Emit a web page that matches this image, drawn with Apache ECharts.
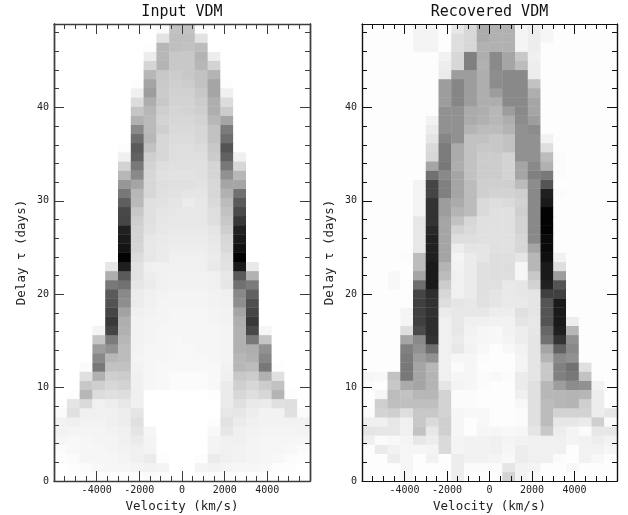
<!DOCTYPE html>
<html><head><meta charset="utf-8">
<style>html,body{margin:0;padding:0;background:#fff}#c{width:628px;height:515px}</style>
<script src="https://cdn.jsdelivr.net/npm/echarts@6/dist/echarts.min.js"></script>
</head><body><div id="c"></div>
<script>
const panelTitles = ['Input VDM', 'Recovered VDM'];
const velocityMin = -6000, velocityMax = 6000, velocityBin = 600;
const delayMax = 48.93, delayBin = 0.9786;
// Darkness (0 white .. 100 black), one row per delay bin from the bottom up, 20 velocity bins.
const inputVDM = [
[0,0,1,1,1,1,1,2,1,0,0,1,2,2,1,1,1,0,0,0],
[0,1,2,3,4,4,5,6,5,0,0,5,6,5,4,4,3,1,1,0],
[1,2,4,4,4,5,7,9,1,0,0,1,9,7,6,5,4,3,2,1],
[2,3,4,4,5,6,7,5,0,0,0,0,5,7,6,5,4,4,3,2],
[4,3,4,5,5,7,9,5,0,0,0,0,5,7,7,5,4,4,4,4],
[6,5,5,5,6,7,12,4,0,0,0,0,3,11,7,6,5,5,5,6],
[6,7,6,6,7,8,14,0,0,0,0,0,1,13,9,7,6,6,6,6],
[2,14,7,7,7,8,12,0,0,0,0,0,0,11,11,8,6,6,14,2],
[0,12,17,7,8,11,7,0,0,0,0,0,0,9,14,10,9,14,15,0],
[0,1,31,16,14,15,7,0,0,0,0,0,1,9,18,15,18,32,1,0],
[0,0,25,22,18,20,7,4,3,2,2,2,3,9,22,18,23,27,0,0],
[0,0,14,33,22,23,7,4,3,2,2,2,3,7,25,23,33,14,0,0],
[0,0,2,53,27,27,6,4,3,3,3,3,3,6,31,29,53,1,0,0],
[0,0,0,47,31,29,5,4,4,3,3,3,4,5,31,33,48,0,0,0],
[0,0,0,40,44,29,6,4,4,3,3,4,4,5,33,34,44,0,0,0],
[0,0,0,26,52,31,6,5,4,3,4,4,4,5,33,53,26,0,0,0],
[0,0,0,5,73,33,6,5,4,4,4,4,4,5,33,72,4,0,0,0],
[0,0,0,0,78,34,6,5,5,4,4,4,5,6,34,78,0,0,0,0],
[0,0,0,0,73,38,7,6,5,4,4,4,5,6,37,73,0,0,0,0],
[0,0,0,0,68,45,9,7,5,5,5,5,6,7,45,69,0,0,0,0],
[0,0,0,0,65,47,9,7,6,5,5,5,6,7,47,62,0,0,0,0],
[0,0,0,0,53,56,11,9,7,6,6,6,7,11,56,52,0,0,0,0],
[0,0,0,0,34,65,13,8,7,6,6,6,7,11,65,33,0,0,0,0],
[0,0,0,0,11,88,13,7,7,7,7,7,10,13,90,10,0,0,0,0],
[0,0,0,0,0,99,16,11,9,7,7,7,9,14,99,0,0,0,0,0],
[0,0,0,0,0,92,19,11,9,8,8,8,10,17,93,0,0,0,0,0],
[0,0,0,0,0,90,20,11,10,9,9,9,11,18,90,0,0,0,0,0],
[0,0,0,0,0,87,20,13,11,10,10,10,12,22,87,0,0,0,0,0],
[0,0,0,0,0,73,22,14,11,11,11,11,15,25,78,0,0,0,0,0],
[0,0,0,0,0,72,25,14,12,11,11,11,15,27,71,0,0,0,0,0],
[0,0,0,0,0,63,30,14,13,12,9,11,17,29,65,0,0,0,0,0],
[0,0,0,0,0,53,31,18,14,13,12,12,18,33,56,0,0,0,0,0],
[0,0,0,0,0,42,37,18,15,14,14,13,18,37,37,0,0,0,0,0],
[0,0,0,0,0,31,47,18,14,13,13,14,19,44,31,0,0,0,0,0],
[0,0,0,0,0,20,53,20,15,14,14,14,19,53,18,0,0,0,0,0],
[0,0,0,0,0,7,62,22,18,15,15,15,23,62,7,0,0,0,0,0],
[0,0,0,0,0,1,65,27,18,15,15,16,25,67,0,0,0,0,0,0],
[0,0,0,0,0,0,57,31,18,16,16,18,27,57,0,0,0,0,0,0],
[0,0,0,0,0,0,47,30,22,17,17,18,27,52,0,0,0,0,0,0],
[0,0,0,0,0,0,33,30,20,18,18,20,31,37,0,0,0,0,0,0],
[0,0,0,0,0,0,26,31,22,19,20,22,34,23,0,0,0,0,0,0],
[0,0,0,0,0,0,16,34,25,20,20,23,34,16,0,0,0,0,0,0],
[0,0,0,0,0,0,7,40,23,21,21,25,37,7,0,0,0,0,0,0],
[0,0,0,0,0,0,1,37,24,22,23,27,37,1,0,0,0,0,0,0],
[0,0,0,0,0,0,0,31,25,23,25,27,32,0,0,0,0,0,0,0],
[0,0,0,0,0,0,0,19,32,25,25,31,20,0,0,0,0,0,0,0],
[0,0,0,0,0,0,0,8,31,25,25,32,8,0,0,0,0,0,0,0],
[0,0,0,0,0,0,0,1,31,28,27,29,0,0,0,0,0,0,0,0],
[0,0,0,0,0,0,0,0,13,28,28,13,0,0,0,0,0,0,0,0],
[0,0,0,0,0,0,0,0,2,27,27,1,0,0,0,0,0,0,0,0]
];
const recoveredVDM = [
[1,1,1,4,1,1,1,8,1,1,1,20,6,3,1,1,1,1,1,1],
[1,1,1,4,1,1,1,8,2,2,2,12,6,5,1,1,3,1,1,1],
[1,1,8,4,1,6,1,8,6,6,5,3,8,7,7,2,1,6,3,1],
[1,9,6,4,4,5,17,5,6,6,7,4,8,7,7,7,1,6,6,4],
[7,2,3,5,11,8,17,5,6,6,7,5,6,7,7,7,5,6,8,6],
[12,11,11,7,27,11,22,4,1,4,4,3,4,12,25,8,5,2,11,11],
[7,7,11,7,25,17,22,4,1,3,1,1,2,14,29,11,11,9,22,2],
[2,20,22,15,25,25,20,4,3,3,1,1,2,14,29,20,20,20,8,11],
[1,22,28,28,28,28,20,2,2,1,1,1,3,14,29,31,32,22,8,1],
[1,4,29,27,31,31,20,2,2,1,1,1,7,14,31,31,32,31,8,1],
[2,1,25,35,37,32,12,5,4,2,1,1,9,14,31,40,46,44,6,1],
[4,3,27,53,37,32,7,4,4,2,3,2,9,12,25,50,53,27,1,1],
[1,1,1,53,37,31,7,2,4,1,1,1,5,12,25,50,56,14,1,1],
[1,1,1,52,40,44,7,4,4,2,1,1,5,12,32,47,44,1,1,1],
[1,1,1,50,44,57,7,11,6,3,1,3,6,12,37,62,47,1,1,1],
[1,1,1,37,47,80,7,9,5,4,3,5,8,12,56,80,44,1,1,1],
[1,1,1,15,71,82,7,11,6,4,3,6,8,11,60,88,31,1,1,1],
[1,1,1,5,75,82,7,11,7,7,6,6,12,11,67,90,8,1,1,1],
[1,1,1,5,75,81,9,11,11,11,8,8,14,12,67,90,1,1,1,1],
[1,1,1,1,75,81,15,12,11,14,12,10,10,12,67,90,1,1,1,1],
[1,1,1,1,73,82,18,7,9,14,12,10,11,12,75,75,1,1,1,1],
[1,1,3,1,57,90,23,7,9,14,14,10,11,20,87,67,1,1,1,1],
[1,1,3,1,37,90,29,7,9,14,15,15,4,25,90,40,1,1,1,1],
[1,1,1,1,29,90,32,6,9,14,15,15,4,31,90,15,1,1,1,1],
[1,1,1,2,29,88,37,5,9,12,15,15,12,31,94,6,1,1,1,1],
[1,1,1,1,11,87,37,8,12,12,14,14,18,37,96,1,1,1,1,1],
[1,1,1,1,11,87,37,15,15,14,14,14,18,47,96,1,1,1,1,1],
[1,1,1,1,11,84,37,20,17,14,14,14,20,47,99,1,1,1,1,1],
[1,1,1,1,11,80,37,27,18,14,14,14,20,47,99,1,1,1,1,1],
[1,1,1,1,5,80,40,32,29,17,14,14,22,47,99,1,1,1,1,1],
[1,1,1,1,5,80,40,35,29,17,15,17,20,47,90,1,1,1,1,1],
[1,1,1,1,5,73,50,37,29,22,20,20,22,47,88,2,1,1,1,1],
[1,1,1,1,5,73,50,37,29,22,22,22,29,46,67,1,1,1,1,1],
[1,1,1,1,1,56,47,37,27,23,23,20,37,50,53,2,1,1,1,1],
[1,1,1,1,1,37,53,34,27,23,23,20,37,47,33,2,1,1,1,1],
[1,1,1,1,1,18,52,35,27,23,23,20,44,44,29,2,1,1,1,1],
[1,1,1,1,1,17,52,35,27,25,25,27,44,44,15,1,1,1,1,1],
[1,1,1,1,1,12,48,44,27,27,25,27,44,44,6,1,1,1,1,1],
[1,1,1,1,1,9,44,44,32,29,29,32,44,46,1,1,1,1,1,1],
[1,1,1,1,1,6,44,44,35,33,31,34,46,40,1,1,1,1,1,1],
[1,1,1,1,1,1,44,44,35,34,31,40,47,37,1,1,1,1,1,1],
[1,1,1,1,1,1,40,48,40,34,34,47,47,37,1,1,1,1,1,1],
[1,1,1,1,1,1,40,48,40,34,40,47,47,34,1,1,1,1,1,1],
[1,1,1,1,1,1,40,48,40,34,46,47,47,27,1,1,1,1,1,1],
[1,1,1,1,1,1,9,40,40,34,45,47,47,8,1,1,1,1,1,1],
[1,1,1,1,1,1,8,18,50,33,47,37,29,8,1,1,1,1,1,1],
[1,1,1,1,1,1,6,18,50,34,47,37,25,7,1,1,1,1,1,1],
[1,1,1,1,5,5,1,15,18,33,33,33,5,8,1,1,1,1,1,1],
[1,1,1,1,5,5,1,15,18,35,33,33,5,8,4,1,1,1,1,1],
[1,1,1,1,5,5,1,11,18,35,33,33,5,8,4,1,1,1,1,1]
];

const MONO = '"DejaVu Sans Mono", monospace';
const panels = [
  {left: 54, width: 256, rows: inputVDM, spine: '#3c3c3c', spineW: 1.4},
  {left: 362, width: 255, rows: recoveredVDM, spine: '#111', spineW: 1.2}
];
const grid = [], xAxis = [], yAxis = [], series = [], title = [];

panels.forEach((p, i) => {
  grid.push({left: p.left, width: p.width, top: 24, height: 457, containLabel: false, outerBoundsMode: 'none'});
  title.push({
    text: panelTitles[i], left: p.left + p.width / 2, top: 5, textAlign: 'center', padding: 0,
    textStyle: {fontFamily: MONO, fontSize: 15, fontWeight: 'normal', color: '#111'}
  });
  const line = {show: true, onZero: false, lineStyle: {color: p.spine, width: p.spineW}};
  const tick = (len) => ({show: true, inside: true, length: len, lineStyle: {color: p.spine, width: 1}});
  const baseX = {
    gridIndex: i, type: 'value', min: velocityMin, max: velocityMax, interval: 2000,
    axisLine: line, axisTick: tick(10), splitLine: {show: false}, z: 10,
    minorTick: {show: true, splitNumber: 4, length: 5, lineStyle: {color: p.spine, width: 1}}
  };
  xAxis.push(Object.assign({}, baseX, {
    position: 'bottom', name: 'Velocity (km/s)', nameLocation: 'middle', nameGap: 19,
    nameTextStyle: {fontFamily: MONO, fontSize: 12.5, color: '#222'},
    axisLabel: {show: true, margin: 4, showMinLabel: false, showMaxLabel: false,
      fontFamily: MONO, fontSize: 10, color: '#222', formatter: (v) => String(v)}
  }));
  xAxis.push(Object.assign({}, baseX, {position: 'top', axisLabel: {show: false}}));
  const baseY = {
    gridIndex: i, type: 'value', min: 0, max: delayMax,
    axisLine: line, splitLine: {show: false}, z: 10, axisLabel: {show: false}
  };
  yAxis.push(Object.assign({}, baseY, {
    position: 'left', interval: 10, axisTick: tick(10),
    name: 'Delay τ (days)', nameLocation: 'middle', nameGap: 26, nameRotate: 90,
    nameTextStyle: {fontFamily: MONO, fontSize: 12.5, color: '#222'},
    axisLabel: {show: true, margin: 5, showMaxLabel: false, fontFamily: MONO, fontSize: 10, color: '#222'}
  }));
  yAxis.push(Object.assign({}, baseY, {position: 'left', interval: 2, axisTick: tick(5)}));
  yAxis.push(Object.assign({}, baseY, {position: 'right', interval: 10, axisTick: tick(10)}));
  yAxis.push(Object.assign({}, baseY, {position: 'right', interval: 2, axisTick: tick(5)}));

  const data = [];
  p.rows.forEach((row, k) => row.forEach((v, c) => {
    data.push([velocityMin + c * velocityBin, k * delayBin, v]);
  }));
  series.push({
    type: 'custom', xAxisIndex: i * 2, yAxisIndex: i * 4, data, z: 2,
    encode: {x: 0, y: 1}, silent: true, animation: false,
    renderItem: (params, api) => {
      const a = api.coord([api.value(0), api.value(1) + delayBin]);
      const b = api.coord([api.value(0) + velocityBin, api.value(1)]);
      return {
        type: 'rect',
        shape: {x: a[0], y: a[1], width: b[0] - a[0] + 0.4, height: b[1] - a[1] + 0.4},
        style: {fill: api.visual('color')}
      };
    }
  });
});

const chart = echarts.init(document.getElementById('c'), null, {renderer: 'canvas'});
chart.setOption({
  animation: false, backgroundColor: '#fff', title, grid, xAxis, yAxis, series,
  visualMap: {show: false, type: 'continuous', min: 0, max: 100, dimension: 2,
    seriesIndex: [0, 1], inRange: {color: ['#ffffff', '#c8c8c8', '#808080', '#404040', '#000000']}}
});
</script></body></html>
